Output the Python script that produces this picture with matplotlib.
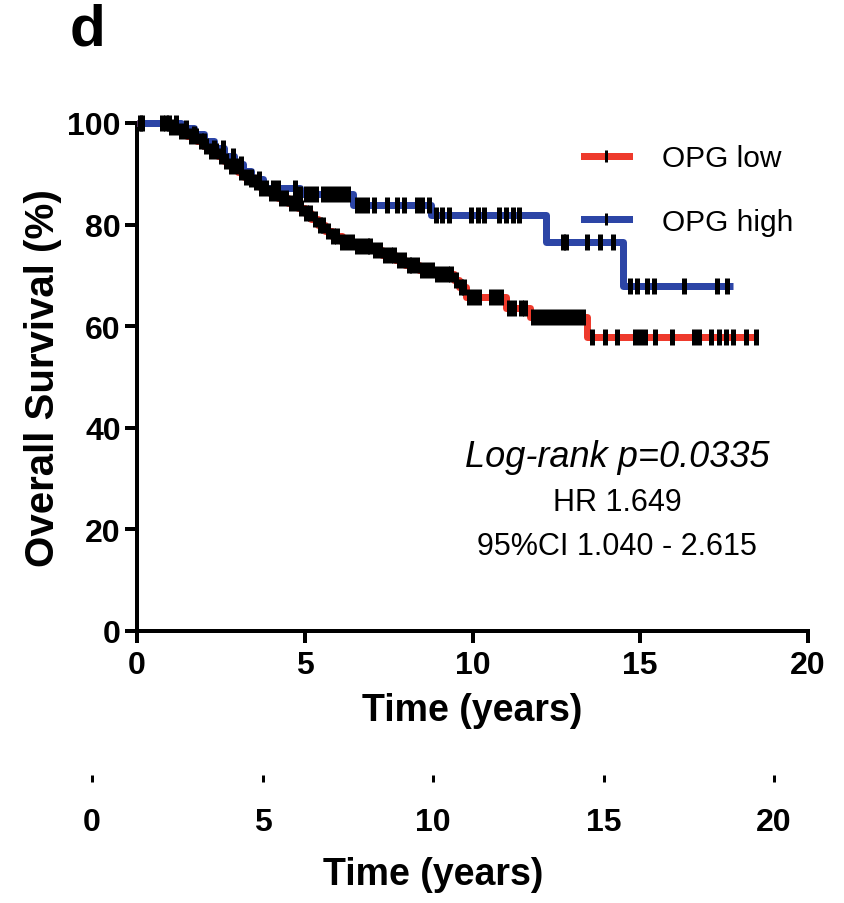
import numpy as np
import matplotlib
matplotlib.use("Agg")
import matplotlib.pyplot as plt
from matplotlib.lines import Line2D

plt.rcParams['font.family'] = ['Liberation Sans', 'DejaVu Sans']
TICK_SIZE = 23
XLABEL_SIZE = 27

# ---- Kaplan-Meier data (time in years, survival in %) ----
low_event_t = [0.9, 1.2, 1.5, 1.8, 2.0, 2.2, 2.4, 2.6, 2.8, 3.0, 3.2, 3.45, 3.7,
               3.95, 4.2, 4.5, 4.8, 5.0, 5.2, 5.4, 5.6, 5.8, 6.1, 6.5, 7.0, 7.3,
               7.7, 8.0, 8.4, 8.9, 9.45, 9.6, 9.8, 11.0, 11.7, 13.4]
low_surv = [99.2, 98.4, 97.5, 96.5, 95.5, 94.5, 93.5, 92.5, 91.5, 90.3, 89.3,
            88.3, 87.3, 86.3, 85.3, 84.2, 83.2, 82.2, 81.1, 80.0, 78.8, 77.7,
            76.6, 75.8, 75.0, 74.0, 73.0, 72.0, 71.1, 70.2, 69.0, 67.8, 65.8,
            63.6, 61.8, 57.9]
low_censor = [0.15, 0.85, 1.0, 1.15, 1.3, 1.45, 1.6, 1.75, 1.9, 2.05, 2.2,
              2.35, 2.5, 2.65, 2.8, 2.95, 3.1, 3.25, 3.4, 3.55, 3.7, 3.85, 4.0,
              4.15, 4.3, 4.45, 4.6, 4.75, 4.9, 5.05, 5.15, 5.3, 5.45, 5.55, 5.7,
              5.85, 5.95, 6.1, 6.25, 6.4, 6.55, 6.7, 6.85, 6.95, 7.1, 7.25, 7.4,
              7.55, 7.65, 7.8, 7.95, 8.1, 8.2, 8.35, 8.5, 8.65, 8.8, 8.95, 9.1,
              9.25, 9.35, 9.5, 9.65, 9.75, 9.9, 10.05, 10.2, 10.55, 10.7, 10.85,
              11.1, 11.25, 11.45, 11.55, 11.8, 11.95, 12.1, 12.25, 12.4, 12.55,
              12.7, 12.85, 13.0, 13.15, 13.3, 13.55, 13.95, 14.3, 14.85, 15.0,
              15.15, 15.45, 15.95, 16.6, 16.75, 17.1, 17.35, 17.55, 17.75,
              18.15, 18.45]
low_end = 18.5

high_event_t = [1.3, 1.7, 2.0, 2.3, 2.6, 2.9, 3.15, 3.4, 3.75, 4.85, 6.45,
                8.75, 12.2, 14.5]
high_surv = [99.0, 97.8, 96.5, 95.0, 93.5, 92.0, 90.5, 89.0, 87.2, 86.0, 83.8,
             81.8, 76.6, 67.9]
high_censor = [0.1, 0.75, 0.95, 1.15, 1.45, 1.7, 2.0, 2.3, 2.55, 2.85, 3.1,
               3.4, 3.65, 4.05, 4.2, 4.7, 4.85, 5.05, 5.2, 5.35, 5.55, 5.7,
               5.85, 6.0, 6.15, 6.3, 6.55, 6.7, 6.85, 7.05, 7.45, 7.75, 7.95,
               8.35, 8.5, 8.7, 8.9, 9.1, 9.3, 9.95, 10.15, 10.35, 10.8, 11.0,
               11.2, 11.4, 12.7, 12.8, 13.4, 13.8, 14.2, 14.7, 14.9, 15.2, 15.4,
               16.3, 17.3, 17.6]
high_end = 17.75

group_labels = ["OPG low", "OPG high"]
x_ticks = [0, 5, 10, 15, 20]
y_ticks = [0, 20, 40, 60, 80, 100]

RED = "#ee3a2c"
BLUE = "#2c45a6"
PX = 0.72  # points per pixel at 100 dpi


def km_curve(event_t, surv, end):
    t = np.concatenate([[0.0], event_t, [end]])
    s = np.concatenate([[100.0], surv, [surv[-1]]])
    return t, s


def surv_at(times, event_t, surv):
    s = np.concatenate([[100.0], surv])
    idx = np.searchsorted(np.asarray(event_t), np.asarray(times), side="right")
    return s[idx]


fig = plt.figure(figsize=(8.44, 9.04), dpi=100)
ax = fig.add_axes([137 / 844, 1 - 632 / 904, 671 / 844, 508 / 904])

lw = 7 * PX
t, s = km_curve(low_event_t, low_surv, low_end)
ax.step(t, s, where="post", color=RED, lw=lw, clip_on=False, zorder=3,
        solid_capstyle="butt")
t, s = km_curve(high_event_t, high_surv, high_end)
ax.step(t, s, where="post", color=BLUE, lw=lw, clip_on=False, zorder=4,
        solid_capstyle="butt")

mk = dict(marker="|", color="black", ls="none", ms=16 * PX, mew=5 * PX,
          clip_on=False, zorder=5)
ax.plot(low_censor, surv_at(low_censor, low_event_t, low_surv), **mk)
ax.plot(high_censor, surv_at(high_censor, high_event_t, high_surv), **mk)

ax.set_xlim(0, 20)
ax.set_ylim(0, 100)
ax.set_xticks(x_ticks)
ax.set_yticks(y_ticks)
for side in ("top", "right"):
    ax.spines[side].set_visible(False)
for side in ("left", "bottom"):
    ax.spines[side].set_linewidth(4 * PX)
ax.tick_params(axis="both", direction="out", length=12 * PX, width=4 * PX,
               labelsize=TICK_SIZE, pad=3)
ax.tick_params(axis="x", pad=5)
for lab in ax.get_xticklabels() + ax.get_yticklabels():
    lab.set_fontweight("bold")
ax.set_xlabel("Time (years)", fontsize=XLABEL_SIZE, fontweight="bold",
              labelpad=9)
ax.set_ylabel("Overall Survival (%)", fontsize=29, fontweight="bold",
              labelpad=4)

handles = [
    (Line2D([], [], color=RED, lw=lw),
     Line2D([], [], marker="|", color="black", ls="none", ms=12 * PX, mew=3 * PX)),
    (Line2D([], [], color=BLUE, lw=lw),
     Line2D([], [], marker="|", color="black", ls="none", ms=12 * PX, mew=3 * PX)),
]
ax.legend(handles, group_labels, loc="upper left",
          bbox_to_anchor=(584 / 844, 1 - 145 / 904),
          bbox_transform=fig.transFigure, frameon=False, fontsize=21.5,
          handlelength=1.5, handletextpad=1.1, labelspacing=1.2,
          borderaxespad=0, borderpad=0)

fig.text(617 / 844, 1 - 458 / 904, "Log-rank p=0.0335", fontsize=26,
         style="italic", ha="center", va="center")
fig.text(617 / 844, 1 - 503 / 904, "HR 1.649", fontsize=22,
         ha="center", va="center")
fig.text(617 / 844, 1 - 547 / 904, "95%CI 1.040 - 2.615", fontsize=22,
         ha="center", va="center")

fig.text(88 / 844, 1 - 31 / 904, "d", fontsize=42, fontweight="bold",
         ha="center", va="center")

# Partial axis of the panel below
ax2 = fig.add_axes([92 / 844, 1 - 776 / 904, 682 / 844, 0.0005])
ax2.set_xlim(0, 20)
ax2.set_xticks(x_ticks)
ax2.set_yticks([])
for sp in ax2.spines.values():
    sp.set_visible(False)
ax2.patch.set_visible(False)
ax2.tick_params(axis="x", direction="out", length=7 * PX, width=3 * PX,
                labelsize=TICK_SIZE, pad=18)
for lab in ax2.get_xticklabels():
    lab.set_fontweight("bold")
ax2.set_xlabel("Time (years)", fontsize=XLABEL_SIZE, fontweight="bold",
               labelpad=14)

fig.savefig("out.png", dpi=100)
